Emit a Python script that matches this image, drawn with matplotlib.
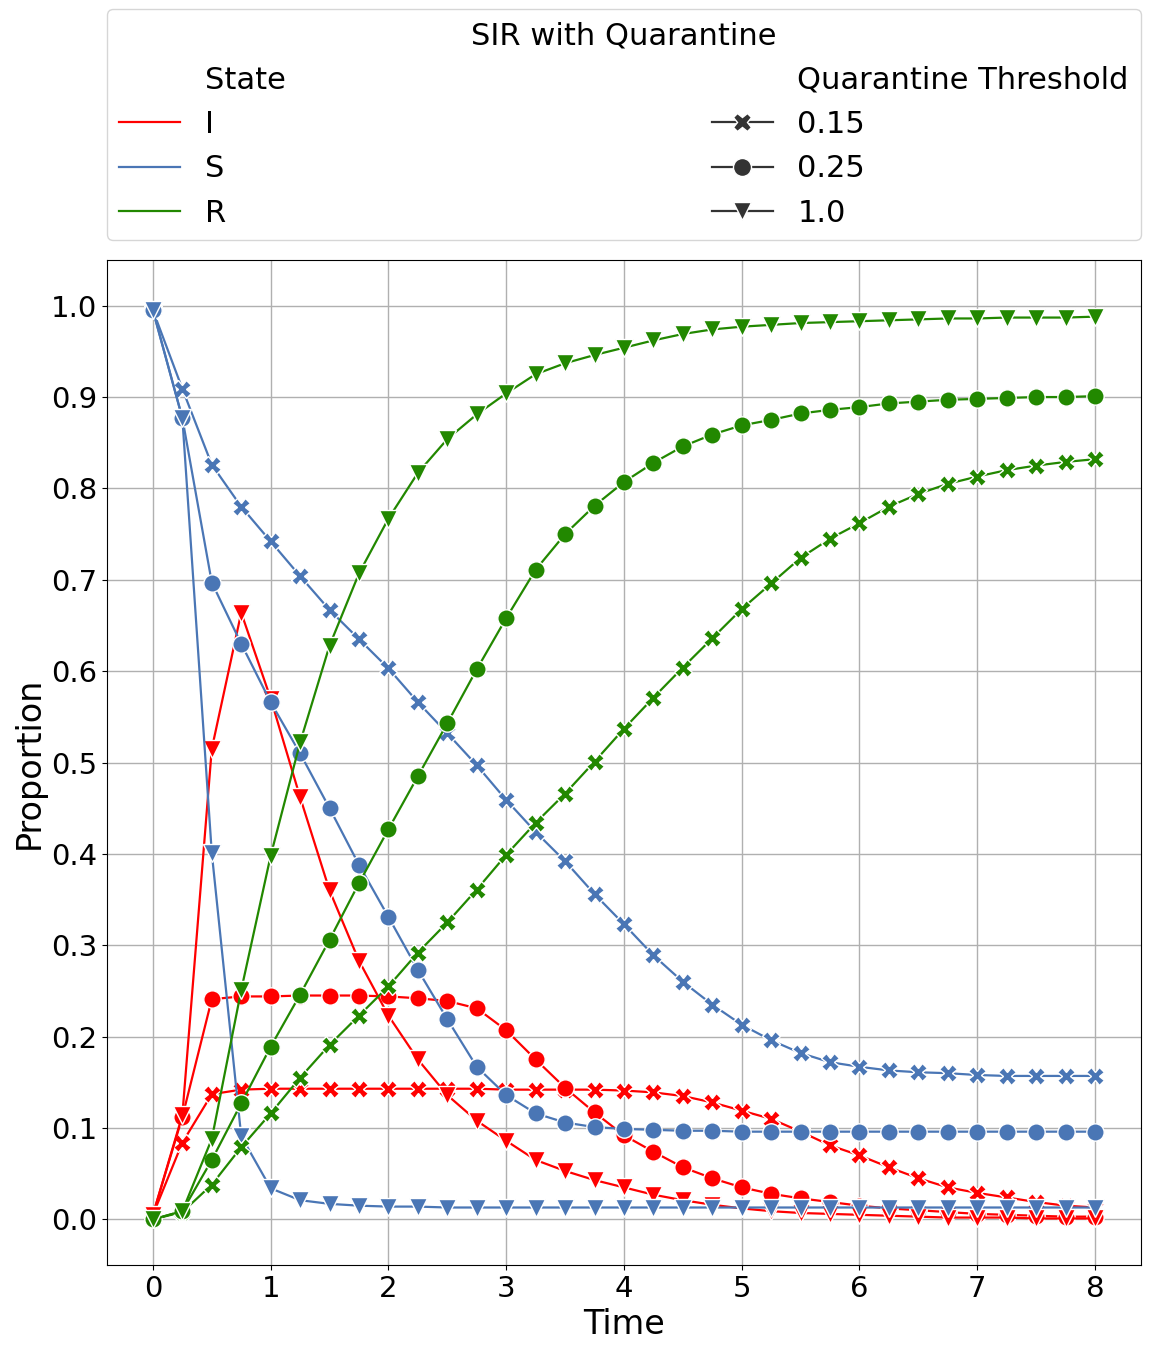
import numpy as np
import matplotlib
matplotlib.use('Agg')
import matplotlib.pyplot as plt
from matplotlib.lines import Line2D

# time grid (0 to 8, step 0.25)
time = np.linspace(0, 8, 33)

# threshold 0.15
S_015 = [0.995, 0.909, 0.826, 0.780, 0.742, 0.704, 0.667, 0.635, 0.603, 0.566, 0.532,
         0.497, 0.459, 0.424, 0.392, 0.356, 0.323, 0.289, 0.260, 0.235, 0.213, 0.196,
         0.182, 0.172, 0.167, 0.163, 0.161, 0.160, 0.158, 0.157, 0.157, 0.157, 0.157]
I_015 = [0.005, 0.084, 0.137, 0.142, 0.143, 0.143, 0.143, 0.143, 0.143, 0.143, 0.143,
         0.143, 0.142, 0.142, 0.142, 0.142, 0.141, 0.139, 0.135, 0.128, 0.119, 0.110,
         0.096, 0.081, 0.070, 0.057, 0.045, 0.035, 0.029, 0.024, 0.019, 0.015, 0.013]
R_015 = [0.0, 0.008, 0.038, 0.079, 0.116, 0.155, 0.191, 0.223, 0.255, 0.292, 0.325,
         0.361, 0.399, 0.434, 0.466, 0.501, 0.537, 0.571, 0.604, 0.636, 0.668, 0.696,
         0.724, 0.745, 0.762, 0.780, 0.794, 0.805, 0.813, 0.820, 0.825, 0.829, 0.832]

# threshold 0.25
S_025 = [0.995, 0.877, 0.697, 0.630, 0.566, 0.510, 0.450, 0.388, 0.331, 0.273, 0.219,
         0.167, 0.136, 0.116, 0.106, 0.101, 0.099, 0.098, 0.097, 0.097, 0.096, 0.096,
         0.096, 0.096, 0.096, 0.096, 0.096, 0.096, 0.096, 0.096, 0.096, 0.096, 0.096]
I_025 = [0.005, 0.112, 0.241, 0.244, 0.244, 0.245, 0.245, 0.245, 0.244, 0.242, 0.239,
         0.231, 0.207, 0.175, 0.144, 0.117, 0.092, 0.074, 0.057, 0.045, 0.035, 0.028,
         0.023, 0.019, 0.015, 0.012, 0.010, 0.008, 0.006, 0.005, 0.004, 0.003, 0.003]
R_025 = [0.0, 0.009, 0.065, 0.127, 0.189, 0.246, 0.306, 0.368, 0.427, 0.485, 0.543,
         0.602, 0.658, 0.711, 0.750, 0.781, 0.807, 0.828, 0.846, 0.859, 0.869, 0.875,
         0.882, 0.886, 0.889, 0.893, 0.895, 0.897, 0.898, 0.899, 0.900, 0.900, 0.901]

# threshold 1.0
S_10 = [0.995, 0.877, 0.401, 0.091, 0.034, 0.021, 0.017, 0.015, 0.014, 0.014, 0.013,
        0.013, 0.013, 0.013, 0.013, 0.013, 0.013, 0.013, 0.013, 0.013, 0.013, 0.013,
        0.013, 0.013, 0.013, 0.013, 0.013, 0.013, 0.013, 0.013, 0.013, 0.013, 0.013]
I_10 = [0.005, 0.114, 0.515, 0.664, 0.570, 0.462, 0.360, 0.283, 0.223, 0.175, 0.136,
        0.108, 0.086, 0.065, 0.053, 0.043, 0.035, 0.027, 0.021, 0.016, 0.012, 0.009,
        0.007, 0.006, 0.005, 0.004, 0.003, 0.002, 0.002, 0.002, 0.001, 0.001, 0.001]
R_10 = [0.0, 0.009, 0.088, 0.251, 0.398, 0.522, 0.628, 0.707, 0.767, 0.817, 0.854,
        0.881, 0.904, 0.925, 0.937, 0.946, 0.954, 0.962, 0.969, 0.974, 0.977, 0.979,
        0.981, 0.982, 0.983, 0.984, 0.985, 0.986, 0.986, 0.987, 0.987, 0.987, 0.988]

states = ['I', 'S', 'R']
thresholds = ['0.15', '0.25', '1.0']
series = {
    ('I', '0.15'): I_015, ('I', '0.25'): I_025, ('I', '1.0'): I_10,
    ('S', '0.15'): S_015, ('S', '0.25'): S_025, ('S', '1.0'): S_10,
    ('R', '0.15'): R_015, ('R', '0.25'): R_025, ('R', '1.0'): R_10,
}
colors = {'I': '#ff0000', 'S': '#4a76b5', 'R': '#228800'}
markers = {'0.15': 'X', '0.25': 'o', '1.0': 'v'}

fig = plt.figure(figsize=(11.54, 13.52), dpi=100)
ax = fig.add_axes([0.0927, 0.0643, 0.896, 0.7434])

for st in states:
    for th in thresholds:
        ax.plot(time, series[(st, th)], color=colors[st], marker=markers[th],
                markersize=12.5, markeredgecolor='white', markeredgewidth=1,
                linewidth=1.6)

ax.set_xlim(-0.39, 8.39)
ax.set_ylim(-0.05, 1.05)
ax.set_yticks(np.arange(0, 1.01, 0.1))
ax.set_xticks(range(0, 9))
ax.grid(True, color='#b0b0b0', linewidth=1)
ax.set_axisbelow(True)
ax.tick_params(labelsize=21)
ax.set_xlabel('Time', fontsize=24)
ax.set_ylabel('Proportion', fontsize=24)

blank = Line2D([], [], linestyle='', marker='')
handles = [blank]
labels = ['State']
for st in states:
    handles.append(Line2D([], [], color=colors[st], linewidth=1.6))
    labels.append(st)
handles.append(blank)
labels.append('Quarantine Threshold')
for th in thresholds:
    handles.append(Line2D([], [], color='.2', marker=markers[th], markersize=13,
                          markeredgecolor='white', markeredgewidth=1, linewidth=1.6))
    labels.append(th)

leg = ax.legend(handles, labels, ncol=2, loc='lower left',
                bbox_to_anchor=(0, 1.02, 1, 0.2), mode='expand',
                fontsize=22, title='SIR with Quarantine', title_fontsize=22,
                borderaxespad=0)

plt.savefig('out.png')
